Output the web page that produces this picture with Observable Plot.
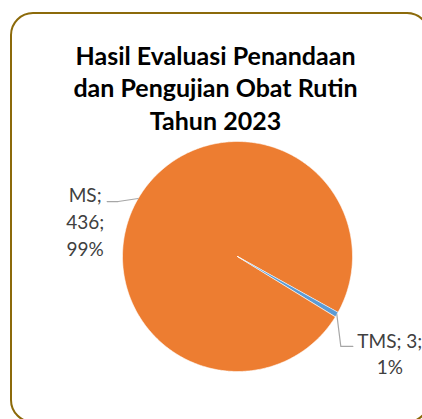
<!DOCTYPE html>
<html>
<head>
<meta charset="utf-8">
<script src="https://cdn.jsdelivr.net/npm/d3@7"></script>
<script src="https://cdn.jsdelivr.net/npm/@observablehq/plot@0.6"></script>
<style>
  html, body { margin: 0; padding: 0; background: #fff; }
  #wrap { position: relative; width: 422px; height: 419px; overflow: hidden; background: #fff; }
  #frame { position: absolute; left: 10px; top: 12px; width: 416px; height: 407px;
           border: 2px solid #8C6A0A; border-radius: 23px; box-sizing: content-box; }
  #chart { position: absolute; left: 0; top: 0; }
</style>
</head>
<body>
<div id="wrap"><div id="frame"></div><div id="chart"></div></div>
<script>
// ---- data ----
const titleLines = ["Hasil Evaluasi Penandaan", "dan Pengujian Obat Rutin", "Tahun 2023"];
const categories = ["MS", "TMS"];
const values = [436, 3];
const colors = ["#ED7D31", "#5B9BD5"];

// ---- layout ----
const W = 422, H = 419;
const cx = 237, cy = 256, R = 115;           // pie centre / radius in px
const firstSliceAngle = 121.5 * Math.PI / 180; // Excel "angle of first slice"
const fontFamily = "Lato, 'Open Sans', sans-serif";

const total = d3.sum(values);
const arcs = d3.pie().sort(null).value(d => d.value)
  .startAngle(firstSliceAngle).endAngle(firstSliceAngle + 2 * Math.PI)(
    categories.map((name, i) => ({name, value: values[i]}))
  );

// polygon outline of each slice (unit radius, y up)
const pt = a => ({x: Math.sin(a), y: Math.cos(a)});
const slicePts = [];
for (const a of arcs) {
  const n = Math.max(2, Math.ceil((a.endAngle - a.startAngle) / 0.01));
  slicePts.push({name: a.data.name, x: 0, y: 0});
  for (let k = 0; k <= n; k++) {
    const ang = a.startAngle + (a.endAngle - a.startAngle) * k / n;
    slicePts.push({name: a.data.name, ...pt(ang)});
  }
}

// label settings: pixel offsets from slice mid-point on the rim
const labelCfg = {
  MS:  {dx: -53, dy: 22, leader: [[0, 0], [-20, 3], [-31, 3]]},
  TMS: {dx: 53, dy: 38, leader: [[0, 0], [4, 32], [16, 32]]}
};
const mids = arcs.map(a => {
  const m = (a.startAngle + a.endAngle) / 2;
  return {name: a.data.name, value: a.data.value, ...pt(m)};
});
const leaderPts = [];
for (const m of mids) {
  for (const [ox, oy] of labelCfg[m.name].leader) {
    leaderPts.push({name: m.name, x: m.x + ox / R, y: m.y - oy / R});
  }
}
const pct = m => `${Math.round(m.value / total * 100)}%`;
const labelText = m => `${m.name};\n${m.value};\n${pct(m)}`;
const labelTextTMS = m => `${m.name}; ${m.value};\n${pct(m)}`;

const chart = Plot.plot({
  width: W, height: H,
  margin: 0,
  style: {background: "transparent", overflow: "visible"},
  x: {domain: [-1, 1], range: [cx - R, cx + R], axis: null},
  y: {domain: [-1, 1], range: [cy + R, cy - R], axis: null},
  color: {domain: categories, range: colors},
  marks: [
    Plot.line(slicePts, {x: "x", y: "y", z: "name", fill: "name", stroke: "white",
      strokeWidth: 0.6, curve: "linear-closed"}),
    Plot.line(leaderPts, {x: "x", y: "y", z: "name", stroke: "#A6A6A6", strokeWidth: 1.2}),
    Plot.text(mids.filter(m => m.name === "MS"), {x: "x", y: "y", text: labelText,
      dx: labelCfg.MS.dx, dy: labelCfg.MS.dy, lineAnchor: "middle", textAnchor: "middle",
      fontSize: 19, lineHeight: 1.4, fontFamily, fill: "#404040"}),
    Plot.text(mids.filter(m => m.name === "TMS"), {x: "x", y: "y", text: labelTextTMS,
      dx: labelCfg.TMS.dx, dy: labelCfg.TMS.dy, lineAnchor: "middle", textAnchor: "middle",
      fontSize: 19, lineHeight: 1.4, fontFamily, fill: "#404040"}),
    Plot.text([titleLines.join("\n")], {frameAnchor: "top", text: d => d, dx: 4, dy: 41,
      lineAnchor: "top", textAnchor: "middle", fontSize: 25, fontWeight: "bold",
      lineHeight: 1.3, fontFamily, fill: "#000"})
  ]
});
document.getElementById("chart").appendChild(chart);
</script>
</body>
</html>
